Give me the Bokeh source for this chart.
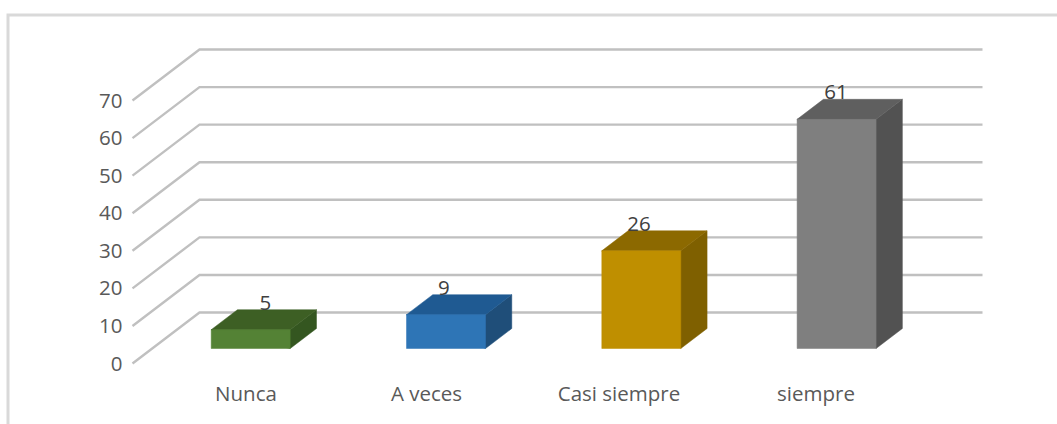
from bokeh.embed import file_html
from bokeh.resources import INLINE
from bokeh.plotting import figure
from bokeh.models import LinearAxis, FixedTicker, ColumnDataSource, Range1d
from bokeh.core.properties import value

categories = ["Nunca", "A veces", "Casi siempre", "siempre"]
values = [5, 9, 26, 61]
y_ticks = [0, 10, 20, 30, 40, 50, 60, 70]
front_colors = ["#548235", "#2e75b6", "#bf8f00", "#7f7f7f"]
top_colors = ["#3d5f24", "#1f5a92", "#8c6900", "#5f5f5f"]
side_colors = ["#345620", "#1f4e79", "#7f6000", "#525252"]

# Layout: pixel geometry of the page, mapped onto data units
W, H = 1057, 424
X0, XU = 230.5, 195.3      # px of category 0 at the floor's front edge, px per category
Y0, YU = 363.0, 3.757      # py of value 0, px per value
px2x = lambda px: (px - X0) / XU
py2v = lambda py: (Y0 - py) / YU

DX = 67 / XU               # full floor depth in x units
DY = 51 / YU               # full floor depth in value units
BAR_HALF = 39.5 / XU
BAR_D0 = 15 / 51
BAR_D1 = BAR_D0 + 20 / 51
FLOOR_LEFT = px2x(132)
WALL_RIGHT = px2x(982)

p = figure(width=W, height=H, output_backend="svg", toolbar_location=None,
           x_range=Range1d(px2x(0), px2x(W)),
           y_range=Range1d(py2v(H), py2v(0)),
           x_axis_type=None, y_axis_type=None,
           min_border=0, min_border_left=0, min_border_right=0,
           min_border_top=0, min_border_bottom=0,
           background_fill_color="white", border_fill_color="white")
p.outline_line_color = None
p.grid.visible = False

# Panel border: left and top only
p.line([px2x(7.5), px2x(7.5), px2x(W)], [py2v(H), py2v(14.5), py2v(14.5)],
       line_color="#d9d9d9", line_width=3, line_join="miter")

# Gridlines: along the side wall, then along the back wall
for v in y_ticks:
    p.line([FLOOR_LEFT, FLOOR_LEFT + DX, WALL_RIGHT],
           [v, v + DY, v + DY],
           line_color="#c0c0c0", line_width=2.4, line_join="miter")

# Bars: front, top and side faces
for i, v in enumerate(values):
    l, r = i - BAR_HALF, i + BAR_HALF
    b0 = BAR_D0 * DY
    t0 = b0 + v
    ox0, ox1 = BAR_D0 * DX, BAR_D1 * DX
    oy = (BAR_D1 - BAR_D0) * DY
    p.patch([l + ox0, r + ox0, r + ox1, r + ox1, r + ox0],
            [t0, t0, t0 + oy, b0 + oy, b0], fill_color=side_colors[i], line_color=side_colors[i], line_width=0.5)
    p.patch([l + ox0, r + ox0, r + ox1, l + ox1],
            [t0, t0, t0 + oy, t0 + oy], fill_color=top_colors[i], line_color=top_colors[i], line_width=0.5)
    p.quad(left=[l + ox0], right=[r + ox0], bottom=[b0], top=[t0],
           fill_color=front_colors[i], line_color=front_colors[i], line_width=0.5)

# Data labels above the back edge of each bar's top
label_shift_px = [-11.5, -28.5, -28.5, -27.0]
label_src = ColumnDataSource(dict(
    x=[i + BAR_D1 * DX for i in range(len(values))],
    y=[BAR_D1 * DY + v for v in values],
    t=[str(v) for v in values],
    dx=label_shift_px,
))
p.text(x="x", y="y", text="t", source=label_src, x_offset="dx", y_offset=-7,
       text_align="center", text_baseline="middle",
       text_font=value("Open Sans"), text_font_size="20.5px", text_color="#404040")

# Value axis
ya = LinearAxis(ticker=FixedTicker(ticks=y_ticks), fixed_location=px2x(132))
ya.axis_line_color = None
ya.major_tick_line_color = None
ya.minor_tick_line_color = None
ya.major_tick_out = 0
ya.major_label_standoff = 10
ya.major_label_text_font = "Open Sans"
ya.major_label_text_font_size = "20.5px"
ya.major_label_text_color = "#595959"
p.add_layout(ya, "left")

# Category axis
cat_ticks = [px2x(245.5), px2x(426), px2x(618.5), px2x(815.5)]
xa = LinearAxis(ticker=FixedTicker(ticks=cat_ticks), fixed_location=py2v(378),
                major_label_overrides=dict(zip(cat_ticks, categories)))
xa.axis_line_color = None
xa.major_tick_line_color = None
xa.minor_tick_line_color = None
xa.major_tick_out = 0
xa.major_label_standoff = 0
xa.major_label_text_font = "Open Sans"
xa.major_label_text_font_size = "20.5px"
xa.major_label_text_color = "#595959"
p.add_layout(xa, "below")

open("out.html", "w").write(file_html(p, INLINE))
